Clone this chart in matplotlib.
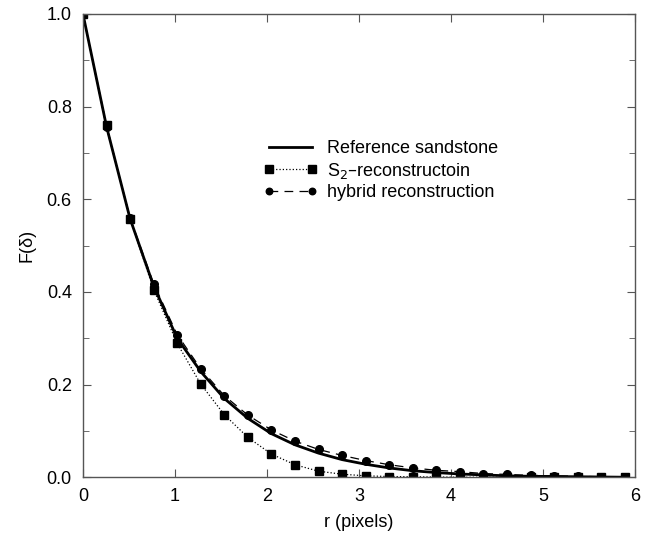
import numpy as np
import matplotlib.pyplot as plt
from matplotlib.ticker import MultipleLocator

plt.rcParams['font.family'] = ['Liberation Sans', 'DejaVu Sans']

# lag distances (pixels)
r = np.arange(24) * 0.256

# two-point cluster function of the reference sample and the two reconstructions
F_ref = [1.0, 0.757, 0.558, 0.413, 0.300, 0.228, 0.170, 0.127, 0.094, 0.070,
         0.052, 0.038, 0.028, 0.020, 0.014, 0.010, 0.007, 0.005, 0.003, 0.002,
         0.0015, 0.001, 0.0005, 0.0]
F_s2 = [1.0, 0.760, 0.558, 0.405, 0.289, 0.201, 0.135, 0.086, 0.050, 0.027,
        0.013, 0.0065, 0.003, 0.0015, 0.001, 0.0005, 0.0, 0.0, 0.0, 0.0,
        0.0, 0.0, 0.0, 0.0]
F_hyb = [1.0, 0.755, 0.560, 0.418, 0.308, 0.234, 0.176, 0.134, 0.102, 0.078,
         0.060, 0.047, 0.036, 0.027, 0.020, 0.015, 0.012, 0.008, 0.006, 0.004,
         0.003, 0.002, 0.001, 0.001]

fig = plt.figure(figsize=(6.48, 5.35), dpi=100)
ax = fig.add_axes([0.128, 0.108, 0.852, 0.866])

ax.plot(r, F_ref, '-', color='black', lw=2.0, label='Reference sandstone')
ax.plot(r, F_s2, ':', color='black', lw=0.9, marker='s', ms=6,
        label='S$_2$\u2013reconstructoin')
ax.plot(r, F_hyb, '--', color='black', lw=0.9, marker='o', ms=5.5,
        dashes=(7, 5), label='hybrid reconstruction')

ax.set_xlim(0, 6)
ax.set_ylim(0, 1.0)
ax.xaxis.set_major_locator(MultipleLocator(1))
ax.yaxis.set_major_locator(MultipleLocator(0.2))
ax.yaxis.set_minor_locator(MultipleLocator(0.1))
ax.yaxis.set_major_formatter(plt.FormatStrFormatter('%.1f'))
ax.tick_params(which='both', direction='in', top=True, right=True,
               labelsize=13, color='#555555')
ax.tick_params(which='major', length=6, pad=8)
ax.tick_params(which='minor', length=4)
for sp in ax.spines.values():
    sp.set_color('#555555')
    sp.set_linewidth(1.0)

ax.set_xlabel('r (pixels)', fontsize=13, labelpad=6)
ax.set_ylabel('F(\u03b4)', fontsize=13, labelpad=8)

ax.legend(loc='upper left', bbox_to_anchor=(0.327, 0.728), frameon=False,
          fontsize=13, numpoints=2, markerscale=0.85, handlelength=3.0,
          handletextpad=0.5, labelspacing=0.2, borderaxespad=0, borderpad=0)

fig.savefig('out.png', dpi=100)
